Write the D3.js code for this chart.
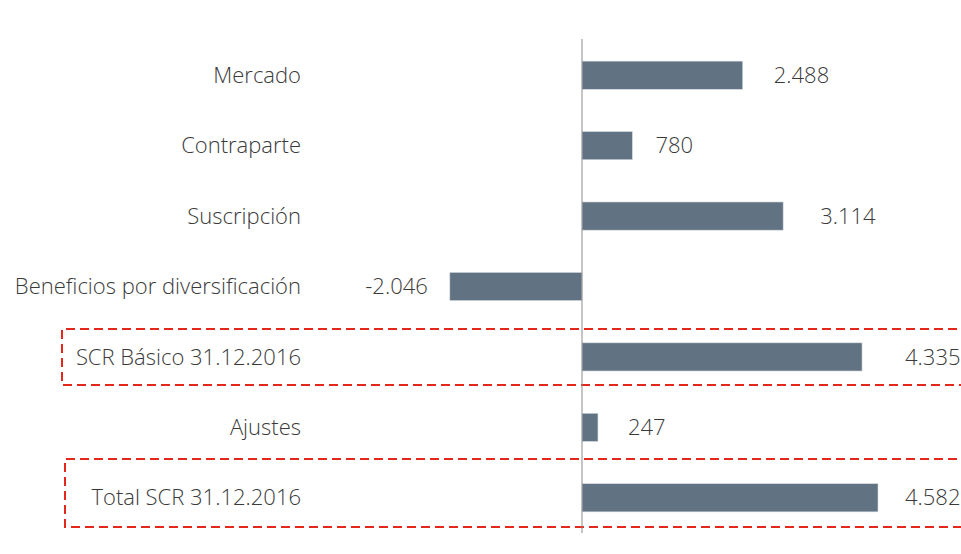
<!DOCTYPE html>
<html>
<head>
<meta charset="utf-8">
<script src="https://cdn.jsdelivr.net/npm/d3@7"></script>
<style>
  body { margin: 0; background: #fff; }
  text { font-family: "Open Sans", "Noto Sans", sans-serif; font-weight: 300; fill: #3a3a3a; }
</style>
</head>
<body>
<div id="chart"></div>
<script>
// data
const categories = ["Mercado", "Contraparte", "Suscripción", "Beneficios por diversificación",
  "SCR Básico 31.12.2016", "Ajustes", "Total SCR 31.12.2016"];
const values = [2488, 780, 3114, -2046, 4335, 247, 4582];
const valueLabels = ["2.488", "780", "3.114", "-2.046", "4.335", "247", "4.582"];
// rows framed by the red dashed box
const highlighted = ["SCR Básico 31.12.2016", "Total SCR 31.12.2016"];
// gap between bar end and its label (px), as placed in the original
const labelGap = [31, 23, 37, 22, 43, 30, 27];

const width = 961, height = 554;

const svg = d3.select("#chart").append("svg")
  .attr("width", width)
  .attr("height", height);

const x = d3.scaleLinear()
  .domain([0, 4582])
  .range([582, 878]);

const y = d3.scaleBand()
  .domain(categories)
  .range([40, 533])
  .paddingInner(0.6)
  .paddingOuter(0.3);

// dashed boxes
const boxes = [
  { cat: highlighted[0], left: 62, top: 329, bottom: 385 },
  { cat: highlighted[1], left: 65, top: 459, bottom: 527 }
];
svg.append("g").selectAll("path")
  .data(boxes)
  .enter().append("path")
    .attr("d", d => `M${width + 10},${d.top}H${d.left}V${d.bottom}H${width + 10}`)
    .attr("fill", "none")
    .attr("stroke", "#e3271b")
    .attr("stroke-width", 2)
    .attr("stroke-dasharray", "9,5");

// bars
svg.append("g").selectAll("rect")
  .data(values)
  .enter().append("rect")
    .attr("x", d => x(Math.min(0, d)))
    .attr("y", (d, i) => y(categories[i]))
    .attr("width", d => Math.abs(x(d) - x(0)))
    .attr("height", y.bandwidth())
    .attr("fill", "#617282")
    .attr("stroke", "#d6dce2")
    .attr("stroke-width", 0.6);

// zero axis
svg.append("line")
  .attr("x1", x(0)).attr("x2", x(0))
  .attr("y1", 39).attr("y2", 533)
  .attr("stroke", "#8c8c8c")
  .attr("stroke-width", 1);

// category labels
svg.append("g").selectAll("text")
  .data(categories)
  .enter().append("text")
    .attr("x", 301)
    .attr("y", d => y(d) + y.bandwidth() / 2)
    .attr("dy", "0.35em")
    .attr("text-anchor", "end")
    .style("font-size", "22px")
    .text(d => d);

// value labels
svg.append("g").selectAll("text")
  .data(values)
  .enter().append("text")
    .attr("x", (d, i) => d < 0 ? x(d) - labelGap[i] : x(d) + labelGap[i])
    .attr("y", (d, i) => y(categories[i]) + y.bandwidth() / 2)
    .attr("dy", "0.35em")
    .attr("text-anchor", d => d < 0 ? "end" : "start")
    .style("font-size", "22px")
    .text((d, i) => valueLabels[i]);
</script>
</body>
</html>
